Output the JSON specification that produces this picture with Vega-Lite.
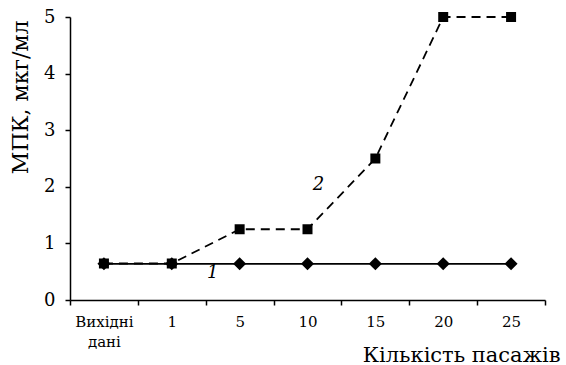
{
  "$schema": "https://vega.github.io/schema/vega-lite/v6.json",
  "width": 475,
  "height": 283,
  "autosize": {"type": "none"},
  "padding": {"left": 70, "top": 17, "right": 21, "bottom": 65},
  "config": {
    "view": {"stroke": null},
    "font": "DejaVu Serif",
    "axis": {"domainColor": "black", "tickColor": "black", "labelColor": "black", "titleColor": "black", "grid": false, "titleFontWeight": "normal", "domainWidth": 1.5, "tickWidth": 1.5}
  },
  "data": {
    "values": [
      {"p": "Вихідні дані", "s": "1", "v": 0.64},
      {"p": "1", "s": "1", "v": 0.64},
      {"p": "5", "s": "1", "v": 0.64},
      {"p": "10", "s": "1", "v": 0.64},
      {"p": "15", "s": "1", "v": 0.64},
      {"p": "20", "s": "1", "v": 0.64},
      {"p": "25", "s": "1", "v": 0.64},
      {"p": "Вихідні дані", "s": "2", "v": 0.645},
      {"p": "1", "s": "2", "v": 0.645},
      {"p": "5", "s": "2", "v": 1.25},
      {"p": "10", "s": "2", "v": 1.25},
      {"p": "15", "s": "2", "v": 2.5},
      {"p": "20", "s": "2", "v": 5},
      {"p": "25", "s": "2", "v": 5}
    ]
  },
  "encoding": {
    "x": {
      "field": "p", "type": "ordinal",
      "sort": null,
      "scale": {"type": "band", "paddingInner": 0, "paddingOuter": 0, "domain": ["Вихідні дані", "1", "5", "10", "15", "20", "25"]},
      "axis": {
        "title": "Кількість пасажів",
        "labelAngle": 0,
        "labelFont": "DejaVu Serif",
        "titleFont": "DejaVu Serif",
        "labelFontSize": 15,
        "labelLineHeight": 20,
        "labelPadding": 9,
        "tickBand": "extent",
        "tickSize": 5,
        "labelExpr": "datum.value == 'Вихідні дані' ? ['Вихідні', 'дані'] : datum.value",
        "titleFontSize": 21,
        "titleAlign": "right",
        "titleAnchor": null,
        "titleX": 490,
        "titleY": 61,
        "titleBaseline": "alphabetic"
      }
    },
    "y": {
      "field": "v", "type": "quantitative",
      "scale": {"domain": [0, 5], "nice": false},
      "axis": {
        "title": "МПК, мкг/мл",
        "labelFont": "DejaVu Serif",
        "titleFont": "DejaVu Serif",
        "values": [0, 1, 2, 3, 4, 5],
        "labelFontSize": 18,
        "tickSize": 5,
        "labelPadding": 10,
        "titleFontSize": 22,
        "titlePadding": 11,
        "titleAnchor": "end",
        "titleY": 3
      }
    }
  },
  "layer": [
    {
      "transform": [{"filter": "datum.s == '1'"}],
      "mark": {"type": "line", "color": "black", "strokeWidth": 1.8},
      "encoding": {}
    },
    {
      "transform": [{"filter": "datum.s == '2'"}],
      "mark": {"type": "line", "color": "black", "strokeWidth": 1.8, "strokeDash": [9, 6]},
      "encoding": {}
    },
    {
      "transform": [{"filter": "datum.s == '2'"}],
      "mark": {"type": "point", "shape": "square", "filled": true, "color": "black", "size": 100, "opacity": 1},
      "encoding": {}
    },
    {
      "transform": [{"filter": "datum.s == '1'"}],
      "mark": {"type": "point", "shape": "diamond", "filled": true, "color": "black", "size": 170, "opacity": 1},
      "encoding": {}
    },
    {
      "data": {"values": [{"t": "1", "p": "5", "v": 0.47, "dx": 7}, {"t": "2", "p": "10", "v": 2.03, "dx": 45}]},
      "mark": {"type": "text", "fontStyle": "italic", "fontSize": 18, "color": "black", "font": "DejaVu Serif"},
      "encoding": {
        "xOffset": {"field": "dx", "type": "quantitative", "scale": null},
        "text": {"field": "t"}
      }
    }
  ]
}
